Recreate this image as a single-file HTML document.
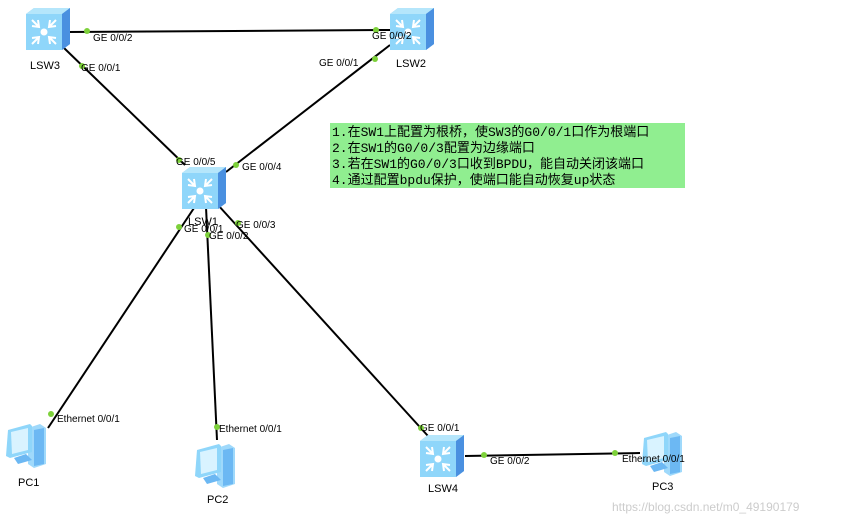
<!DOCTYPE html>
<html><head><meta charset="utf-8"><style>
html,body{margin:0;padding:0;background:#fff;}
svg{display:block;font-family:"Liberation Sans",Arial,sans-serif;}
.l{font-size:10px;fill:#000;}
.n{font-size:11px;fill:#000;}
.cn{font-family:"Liberation Mono","Noto Sans CJK SC",monospace;font-size:13px;fill:#000;}
</style></head><body>
<svg width="867" height="524" viewBox="0 0 867 524" xmlns="http://www.w3.org/2000/svg">
<defs>
<g id="sw">
  <polygon points="0,6 8,0 44,0 44,36 36,42 0,42" fill="#7ec6f0"/>
  <polygon points="0,6 8,0 44,0 36,6" fill="#b5e6fb"/>
  <rect x="0" y="6" width="36" height="36" fill="#8fd6fa"/>
  <polygon points="36,6 44,0 44,36 36,42" fill="#4a90e0"/>
  <g stroke="#fff" stroke-width="2" fill="none">
    <path d="M6,12 L13,19 M6,18 L13,19 L12,12"/>
    <path d="M30,12 L23,19 M30,18 L23,19 L24,12"/>
    <path d="M6,36 L13,29 M6,30 L13,29 L12,36"/>
    <path d="M30,36 L23,29 M30,30 L23,29 L24,36"/>
  </g>
  <circle cx="18" cy="24" r="3.5" fill="#fff"/>
</g>
<g id="pc">
  <polygon points="24,8 36,4 42,8 42,44 30,48 24,44" fill="#9fd9fb"/>
  <polygon points="30,10 40,8 40,44 30,46" fill="#6cb8f3"/>
  <polygon points="4,10 26,4 28,6 28,32 6,38 2,36" fill="#8fd6fa"/>
  <polygon points="7,12 24,8 24,30 8,34" fill="#d9f3ff"/>
  <polygon points="10,38 22,34 28,40 14,44" fill="#6cb8f3"/>
</g>
</defs>
<!-- links -->
<g stroke="#000" stroke-width="2">
  <line x1="68" y1="32" x2="390" y2="30"/>
  <line x1="64" y1="48" x2="185" y2="165"/>
  <line x1="390" y1="45" x2="226" y2="172"/>
  <line x1="196" y1="205" x2="48" y2="428"/>
  <line x1="206" y1="207" x2="217" y2="440"/>
  <line x1="218" y1="205" x2="428" y2="436"/>
  <line x1="465" y1="456" x2="640" y2="453"/>
</g>
<!-- devices -->
<use href="#sw" x="26" y="8"/>
<use href="#sw" x="390" y="8"/>
<use href="#sw" x="182" y="167"/>
<use href="#sw" x="420" y="435"/>
<use href="#pc" x="4" y="420"/>
<use href="#pc" x="193" y="440"/>
<use href="#pc" x="640" y="428"/>
<!-- port dots -->
<g fill="#7dd13a">
  <circle cx="87" cy="31" r="3"/><circle cx="376" cy="30" r="3"/>
  <circle cx="82" cy="66" r="3"/><circle cx="375" cy="59" r="3"/>
  <circle cx="179" cy="160" r="3"/><circle cx="236" cy="165" r="3"/>
  <circle cx="179" cy="227" r="3"/><circle cx="208" cy="235" r="3"/><circle cx="238" cy="223" r="3"/>
  <circle cx="51" cy="414" r="3"/><circle cx="217" cy="427" r="3"/>
  <circle cx="421" cy="428" r="3"/><circle cx="484" cy="455" r="3"/><circle cx="615" cy="453" r="3"/>
</g>
<!-- labels -->
<g class="l">
  <text x="93" y="41">GE 0/0/2</text>
  <text x="372" y="39">GE 0/0/2</text>
  <text x="81" y="71">GE 0/0/1</text>
  <text x="319" y="66">GE 0/0/1</text>
  <text x="176" y="165">GE 0/0/5</text>
  <text x="242" y="170">GE 0/0/4</text>
  <text x="184" y="232">GE 0/0/1</text>
  <text x="209" y="239">GE 0/0/2</text>
  <text x="236" y="228">GE 0/0/3</text>
  <text x="57" y="422">Ethernet 0/0/1</text>
  <text x="219" y="432">Ethernet 0/0/1</text>
  <text x="420" y="431">GE 0/0/1</text>
  <text x="490" y="464">GE 0/0/2</text>
  <text x="622" y="462">Ethernet 0/0/1</text>
</g>
<g class="n">
  <text x="30" y="69">LSW3</text>
  <text x="396" y="67">LSW2</text>
  <text x="188" y="225">LSW1</text>
  <text x="428" y="492">LSW4</text>
  <text x="18" y="486">PC1</text>
  <text x="207" y="503">PC2</text>
  <text x="652" y="490">PC3</text>
</g>
<!-- note -->
<rect x="330" y="123" width="355" height="65" fill="#90ee90"/>
<g class="cn">
  <text x="332" y="136">1.在SW1上配置为根桥，使SW3的G0/0/1口作为根端口</text>
  <text x="332" y="152">2.在SW1的G0/0/3配置为边缘端口</text>
  <text x="332" y="168">3.若在SW1的G0/0/3口收到BPDU，能自动关闭该端口</text>
  <text x="332" y="184">4.通过配置bpdu保护，使端口能自动恢复up状态</text>
</g>
<text x="612" y="511" style="font-size:12px;fill:#ccc">https://blog.csdn.net/m0_49190179</text>
</svg>
</body></html>
